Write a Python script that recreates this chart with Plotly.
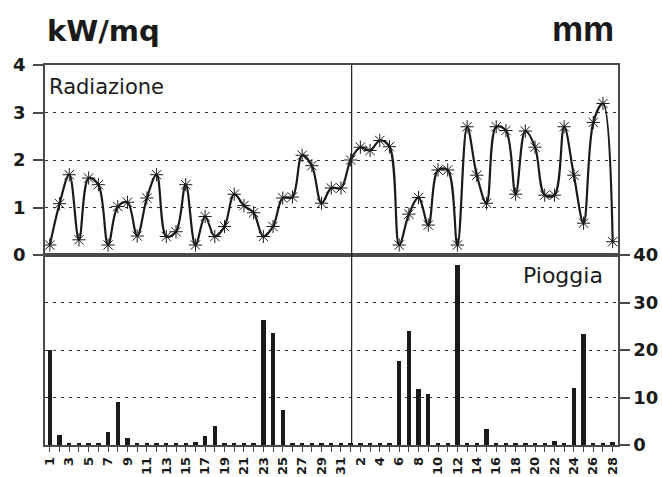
import plotly.graph_objects as go

# ---- data ----
jan_days = list(range(1, 32))
feb_days = list(range(1, 29))

radiazione_jan = [0.21, 1.08, 1.69, 0.32, 1.62, 1.48, 0.21, 1.02, 1.11, 0.40,
                  1.20, 1.69, 0.39, 0.49, 1.48, 0.21, 0.81, 0.39, 0.60, 1.28,
                  1.04, 0.89, 0.39, 0.60, 1.20, 1.22, 2.10, 1.88, 1.09, 1.41, 1.41]
radiazione_feb = [2.00, 2.27, 2.20, 2.41, 2.28, 0.21, 0.86, 1.21, 0.63, 1.79,
                  1.79, 0.21, 2.70, 1.68, 1.09, 2.70, 2.62, 1.28, 2.61, 2.27,
                  1.26, 1.26, 2.70, 1.68, 0.67, 2.79, 3.19, 0.28]

pioggia_jan = [19.9, 2.1, 0.5, 0.5, 0.5, 0.5, 2.8, 9.0, 1.5, 0.5,
               0.5, 0.5, 0.5, 0.5, 0.5, 0.7, 1.8, 4.0, 0.5, 0.5,
               0.5, 0.5, 26.3, 23.6, 7.4, 0.5, 0.5, 0.5, 0.5, 0.5, 0.5]
pioggia_feb = [0.5, 0.5, 0.5, 0.5, 0.5, 17.7, 23.9, 11.7, 10.7, 0.5,
               0.5, 37.9, 0.5, 0.5, 3.3, 0.5, 0.5, 0.5, 0.5, 0.5,
               0.5, 0.9, 0.5, 12.1, 23.3, 0.5, 0.5, 0.7]

rad_ticks = [0, 1, 2, 3, 4]
rain_ticks = [0, 10, 20, 30, 40]

# ---- derived ----
radiazione = radiazione_jan + radiazione_feb
pioggia = pioggia_jan + pioggia_feb
xpos = list(range(len(jan_days) + len(feb_days)))
labels = [str(d) if d % 2 == 1 else "" for d in jan_days] + \
         [str(d) if d % 2 == 0 else "" for d in feb_days]

WIDE = "DejaVu Sans, Verdana, sans-serif"
ARIAL = "Liberation Sans, Arial, Helvetica, sans-serif"
INK = "#1a1a1a"
FRAME = "#4a4a4a"

fig = go.Figure()
fig.add_trace(go.Scatter(
    x=xpos, y=radiazione, xaxis="x", yaxis="y",
    mode="lines+markers",
    line=dict(color=INK, width=2.2, shape="spline", smoothing=1.0),
    marker=dict(symbol="asterisk-open", size=11, color=INK,
                line=dict(color=INK, width=1)),
    cliponaxis=False, showlegend=False,
))
fig.add_trace(go.Bar(
    x=xpos, y=pioggia, xaxis="x2", yaxis="y2",
    marker=dict(color=INK, line=dict(width=0)),
    width=0.45, showlegend=False,
))

grid = dict(showgrid=True, gridcolor="#333333", gridwidth=1, griddash="3px,5px")

fig.update_layout(
    width=662, height=477,
    margin=dict(l=45, r=44, t=65, b=32),
    paper_bgcolor="white", plot_bgcolor="white",
    font=dict(family=WIDE, color=INK),
    bargap=0,
    xaxis=dict(domain=[0, 1], anchor="y", range=[-0.5, 58.55], automargin=False,
               showticklabels=False, ticks="", showgrid=False, zeroline=False,
               showline=True, mirror=True, linecolor=FRAME, linewidth=1.5),
    yaxis=dict(domain=[0.5, 1], anchor="x", range=[0, 4], tickvals=rad_ticks,
               automargin=False,
               ticks="outside", ticklen=10, tickcolor=FRAME, tickwidth=1.5,
               ticklabelstandoff=4,
               tickfont=dict(size=18, weight="bold", family=WIDE),
               zeroline=False, showline=True, mirror=True,
               linecolor=FRAME, linewidth=1.5, **grid),
    xaxis2=dict(domain=[0, 1], anchor="y2", range=[-0.5, 58.55], automargin=False,
                tickmode="array", tickvals=xpos, ticktext=labels,
                tickangle=-90, ticks="outside", ticklen=5, tickcolor=FRAME,
                tickfont=dict(size=13, weight="bold", family=WIDE),
                showgrid=False, zeroline=False,
                showline=True, mirror=True, linecolor=FRAME, linewidth=1.5),
    yaxis2=dict(domain=[0, 0.5], anchor="x2", side="right", range=[0, 40],
                automargin=False,
                tickvals=rain_ticks, ticks="outside", ticklen=10,
                tickcolor=FRAME, tickwidth=1.5,
                tickfont=dict(size=18, weight="bold", family=WIDE),
                zeroline=False, showline=True, mirror=True,
                linecolor=FRAME, linewidth=1.5, **grid),
    shapes=[dict(type="line", xref="x", yref="paper", x0=31.1, x1=31.1,
                 y0=0, y1=1, line=dict(color=INK, width=1.2))],
    annotations=[
        dict(text="kW/mq", xref="paper", yref="paper", x=0.0, y=1.09,
             xanchor="left", yanchor="middle", showarrow=False,
             font=dict(size=29, weight="bold", family=WIDE)),
        dict(text="mm", xref="paper", yref="paper", x=0.996, y=1.095,
             xanchor="right", yanchor="middle", showarrow=False,
             font=dict(size=35, weight="bold", family=ARIAL)),
        dict(text="Radiazione", xref="paper", yref="paper", x=0.004, y=0.942,
             xanchor="left", yanchor="middle", showarrow=False,
             font=dict(size=21, family=WIDE)),
        dict(text="Pioggia", xref="paper", yref="paper", x=0.978, y=0.447,
             xanchor="right", yanchor="middle", showarrow=False,
             font=dict(size=22, family=WIDE)),
    ],
)

fig.write_html("out.html")
